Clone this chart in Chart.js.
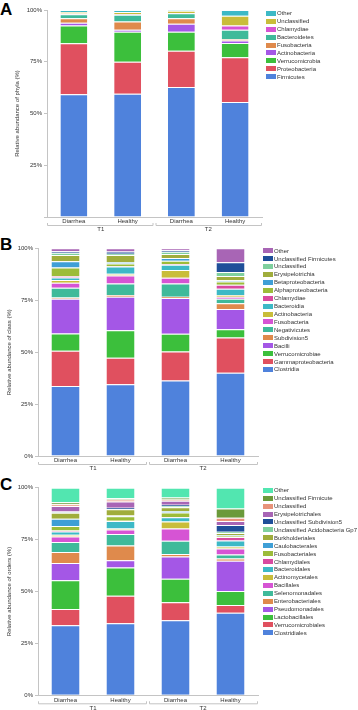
<!DOCTYPE html>
<html>
<head>
<meta charset="utf-8" />
<title>Relative abundance - phyla, class, orders</title>
<script src="https://cdn.jsdelivr.net/npm/chart.js"></script>
<style>
    body { margin: 0; padding: 0; width: 358px; height: 710px; overflow: hidden; position: relative; background: #fff; font-family: "Liberation Sans", Arial, sans-serif; }
    canvas { position: absolute; left: 0; }
    .letter { position: absolute; left: 0; font-size: 17px; font-weight: bold; line-height: 17px; color: #000; }
    .legend { position: absolute; font-size: 6px; color: #333; }
    .legend div { height: 7.93px; display: flex; align-items: center; white-space: nowrap; }
    .legend span { display: inline-block; width: 10px; height: 5px; margin-right: 1px; }
</style>
</head>
<body>
<div class="letter" style="top:1px">A</div>
<div class="letter" style="top:236px">B</div>
<div class="letter" style="top:476px">C</div>
<canvas id="chartA" width="358" height="240" style="top:0px"></canvas>
<canvas id="chartB" width="358" height="245" style="top:235px"></canvas>
<canvas id="chartC" width="358" height="260" style="top:470px"></canvas>
<div id="legendA" class="legend" style="left:266px; top:9.4px"></div>
<div id="legendB" class="legend" style="left:263px; top:246.7px"></div>
<div id="legendC" class="legend" style="left:263px; top:486.3px"></div>
<script>
// x categories and group labels
var categories = ['Diarrhea', 'Healthy', 'Diarrhea', 'Healthy'];
var groups = ['T1', 'T2'];

// Panel A - phyla (bottom to top)
var phylaNames = ['Firmicutes', 'Proteobacteria', 'Verrucomicrobia', 'Actinobacteria', 'Fusobacteria',
    'Bacteroidetes', 'Chlamydiae', 'Unclassified', 'Other'];
var phylaColors = ['#4f82dc', '#e0505f', '#3cbf3c', '#a457e6', '#df8a4c', '#3fba9a', '#d654d4', '#c9bd3a', '#3db9c6'];
var phylaT1Diarrhea = [59.3, 24.6, 8.6, 1.3, 2.2, 1.9, 0.4, 0.7, 1.0];
var phylaT1Healthy  = [59.6, 15.4, 14.5, 1.0, 4.0, 3.2, 0.2, 1.1, 1.0];
var phylaT2Diarrhea = [62.8, 17.5, 9.2, 3.9, 2.6, 2.4, 0.2, 1.0, 0.4];
var phylaT2Healthy  = [55.6, 21.6, 6.8, 1.3, 0.6, 4.5, 2.1, 4.7, 2.8];

// Panel B - class (bottom to top)
var classNames = ['Clostridia', 'Gammaproteobacteria', 'Verrucomicrobiae', 'Bacilli', 'Subdivision5',
    'Negativicutes', 'Fusobacteria', 'Actinobacteria', 'Bacteroidia', 'Chlamydiae', 'Alphaproteobacteria',
    'Betaproteobacteria', 'Erysipelotrichia', 'Unclassified', 'Unclassified Firmicutes', 'Other'];
var classColors = ['#4f82dc', '#e0505f', '#3cbf3c', '#a457e6', '#df8a4c', '#3fba9a', '#d654d4', '#c9bd3a',
    '#3db9c6', '#d84aa0', '#9cbc3a', '#3f9fd6', '#a0ad3c', '#7fd09e', '#1f4f99', '#a865b5'];
var classT1Diarrhea = [33.7, 17.0, 8.3, 16.7, 0.6, 4.7, 2.4, 1.3, 1.3, 0.6, 4.2, 3.0, 3.0, 1.0, 0.8, 1.4];
var classT1Healthy  = [34.5, 12.8, 13.3, 16.1, 0.8, 5.5, 3.9, 0.8, 3.5, 0.2, 1.3, 0.6, 3.5, 0.6, 1.0, 1.6];
var classT2Diarrhea = [36.3, 14.0, 8.5, 17.3, 0.6, 6.4, 2.7, 3.7, 2.6, 0.3, 1.6, 1.3, 1.9, 1.1, 0.8, 0.9];
var classT2Healthy  = [40.1, 17.0, 3.9, 9.8, 2.7, 2.2, 1.0, 0.8, 3.0, 1.9, 1.6, 0.6, 2.1, 1.9, 4.7, 6.7];

// Panel C - orders (bottom to top)
var orderNames = ['Clostridiales', 'Verrucomicrobiales', 'Lactobacillales', 'Pseudomonadales', 'Enterobacteriales',
    'Selenomonadales', 'Bacillales', 'Actinomycetales', 'Bacteroidales', 'Chlamydiales', 'Fusobacteriales',
    'Caulobacterales', 'Burkholderiales', 'Unclassified Acidobacteria Gp7', 'Unclassified Subdivision5',
    'Erysipelotrichales', 'Unclassified', 'Unclassified Firmicute', 'Other'];
var orderColors = ['#4f82dc', '#e0505f', '#3cbf3c', '#a457e6', '#df8a4c', '#3fba9a', '#d654d4', '#c9bd3a',
    '#3db9c6', '#d84aa0', '#9cbc3a', '#3f9fd6', '#a0ad3c', '#7fd09e', '#1f4f99', '#a865b5', '#e8937a', '#6b9a3a', '#52e6b0'];
var orderT1Diarrhea = [33.7, 7.9, 13.8, 8.3, 5.3, 4.8, 2.7, 0.8, 1.6, 0.5, 2.2, 3.4, 2.9, 0.3, 0.3, 2.7, 0.8, 1.0, 7.0];
var orderT1Healthy  = [34.7, 13.3, 13.6, 3.5, 7.1, 5.5, 2.2, 0.5, 3.5, 0.2, 2.1, 0.4, 3.0, 0.2, 0.6, 2.9, 1.0, 0.6, 5.1];
var orderT2Diarrhea = [36.1, 8.7, 11.4, 10.6, 1.3, 6.3, 5.9, 3.4, 2.1, 0.1, 2.2, 0.6, 1.9, 0.6, 0.6, 1.9, 0.6, 1.0, 4.7];
var orderT2Healthy  = [39.8, 3.7, 6.7, 14.6, 1.1, 1.9, 2.9, 1.0, 2.9, 1.6, 0.6, 0.4, 1.0, 0.6, 3.2, 1.9, 1.6, 4.5, 10.0];

var tickFont = { family: '"Liberation Sans", Arial, sans-serif', size: 6 };
var axisColor = '#c4c4c4';
var textColor = '#333';

// brackets under T1 / T2
var bracketPlugin = {
    id: 'groupBrackets',
    afterDraw: function(chart) {
        var xs = chart.scales.x;
        var ctx = chart.ctx;
        var y = xs.bottom;
        var mid = (xs.left + xs.right) / 2;
        ctx.save();
        ctx.strokeStyle = axisColor;
        ctx.lineWidth = 1;
        [[xs.left, mid - 1], [mid + 1, xs.right]].forEach(function(seg) {
            ctx.beginPath();
            ctx.moveTo(seg[0] + 0.5, y - 2);
            ctx.lineTo(seg[0] + 0.5, y + 0.5);
            ctx.lineTo(seg[1] - 0.5, y + 0.5);
            ctx.lineTo(seg[1] - 0.5, y - 2);
            ctx.stroke();
        });
        ctx.restore();
    }
};

function buildLegend(id, names, colors) {
    var el = document.getElementById(id);
    for (var i = names.length - 1; i >= 0; i--) {
        var row = document.createElement('div');
        row.innerHTML = '<span style="background:' + colors[i] + '"></span>' + names[i];
        el.appendChild(row);
    }
}

function makeChart(id, names, colors, samples, title, lay) {
    var datasets = names.map(function(n, i) {
        return {
            label: n,
            data: samples.map(function(s) { return s[i]; }),
            backgroundColor: colors[i],
            borderColor: 'rgba(255,255,255,0.35)',
            borderWidth: { top: 1, bottom: 0, left: 0, right: 0 },
            borderSkipped: false,
            barPercentage: 1,
            categoryPercentage: lay.catPct
        };
    });
    var canvas = document.getElementById(id);
    new Chart(canvas, {
        type: 'bar',
        data: { labels: categories, datasets: datasets },
        options: {
            responsive: false,
            animation: false,
            devicePixelRatio: 1,
            layout: { padding: { left: lay.left, right: 358 - lay.right, top: lay.top, bottom: canvas.height - lay.bottom - 20 } },
            plugins: { legend: { display: false }, tooltip: { enabled: false } },
            scales: {
                x: {
                    stacked: true,
                    weight: 0,
                    grid: { display: false, drawTicks: false },
                    border: { display: true, color: axisColor },
                    ticks: { font: tickFont, color: textColor, padding: 1 },
                    afterFit: function(s) { s.height = 8; }
                },
                x2: {
                    type: 'category',
                    labels: groups,
                    position: 'bottom',
                    offset: true,
                    weight: 1,
                    grid: { display: false, drawTicks: false },
                    border: { display: false },
                    ticks: { font: tickFont, color: textColor, padding: 1 },
                    afterFit: function(s) { s.height = 12; }
                },
                y: {
                    stacked: true,
                    min: 0,
                    max: 100,
                    ticks: {
                        stepSize: 25,
                        font: tickFont,
                        color: textColor,
                        padding: 2,
                        callback: function(v) { return (v === 0 && lay.hideZero) ? '' : v + '%'; }
                    },
                    grid: { drawOnChartArea: false, drawTicks: true, tickLength: 3, color: axisColor },
                    border: { display: true, color: axisColor },
                    title: { display: true, text: title, font: tickFont, color: textColor, padding: 0 },
                    afterFit: function(s) { s.width = lay.axisX - lay.left; }
                }
            }
        },
        plugins: [bracketPlugin]
    });
}

makeChart('chartA', phylaNames, phylaColors,
    [phylaT1Diarrhea, phylaT1Healthy, phylaT2Diarrhea, phylaT2Healthy],
    'Relative abundance of phyla (%)',
    { left: 13.7, axisX: 47, right: 262, top: 10, bottom: 217, catPct: 0.5, hideZero: true });
makeChart('chartB', classNames, classColors,
    [classT1Diarrhea, classT1Healthy, classT2Diarrhea, classT2Healthy],
    'Relative abundance of class (%)',
    { left: 5.4, axisX: 38, right: 258, top: 13.3, bottom: 221, catPct: 0.51, hideZero: false });
makeChart('chartC', orderNames, orderColors,
    [orderT1Diarrhea, orderT1Healthy, orderT2Diarrhea, orderT2Healthy],
    'Relative abundance of orders (%)',
    { left: 5.4, axisX: 38, right: 258, top: 17.7, bottom: 225.3, catPct: 0.51, hideZero: false });

buildLegend('legendA', phylaNames, phylaColors);
buildLegend('legendB', classNames, classColors);
buildLegend('legendC', orderNames, orderColors);
</script>
</body>
</html>
